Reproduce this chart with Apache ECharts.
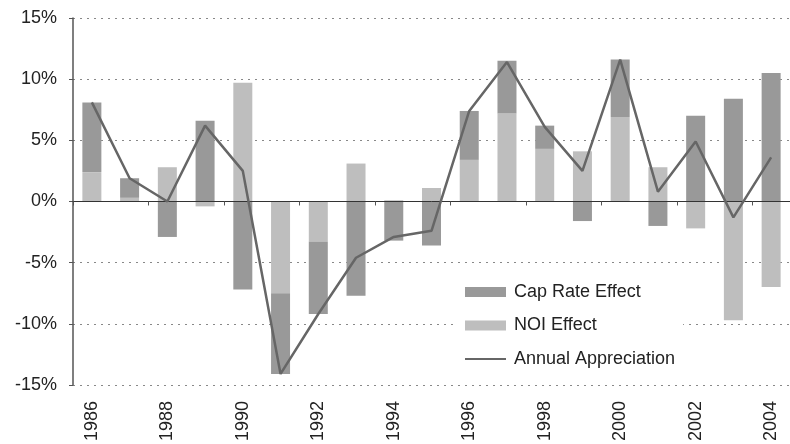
<!DOCTYPE html>
<html>
<head>
<meta charset="utf-8">
<script src="https://cdn.jsdelivr.net/npm/echarts@6/dist/echarts.min.js"></script>
<style>
html,body{margin:0;padding:0;background:#fff;}
#chart{width:790px;height:444px;}
</style>
</head>
<body>
<div id="chart"></div>
<script>
var years = ['1986','1987','1988','1989','1990','1991','1992','1993','1994','1995','1996','1997','1998','1999','2000','2001','2002','2003','2004'];
var noiEffect = [2.4, 0.3, 2.8, -0.4, 9.7, -7.5, -3.3, 3.1, 0.1, 1.1, 3.4, 7.2, 4.3, 4.1, 6.9, 2.8, -2.2, -9.7, -7.0];
var capRateEffect = [5.7, 1.6, -2.9, 6.6, -7.2, -6.6, -5.9, -7.7, -3.2, -3.6, 4.0, 4.3, 1.9, -1.6, 4.7, -2.0, 7.0, 8.4, 10.5];
var annualAppreciation = [8.1, 1.9, 0.0, 6.2, 2.5, -14.1, -9.2, -4.6, -2.9, -2.4, 7.4, 11.4, 6.1, 2.5, 11.6, 0.8, 4.9, -1.3, 3.6];
var yTicks = {min: -15, max: 15, interval: 5};

var font = 'Liberation Sans, Arial, sans-serif';
var chart = echarts.init(document.getElementById('chart'), null, {renderer: 'canvas'});
chart.setOption({
  animation: false,
  backgroundColor: '#fff',
  textStyle: {fontFamily: font},
  grid: {left: 73, top: 18, width: 723, height: 369, containLabel: false},
  legend: {
    orient: 'vertical',
    left: 457,
    top: 276,
    padding: [7, 8, 7, 7],
    backgroundColor: '#fff',
    itemWidth: 41,
    itemHeight: 10,
    itemGap: 15.5,
    textStyle: {fontSize: 18, color: '#222', fontFamily: font, padding: [0, 0, 0, 3]},
    data: [
      {name: 'Cap Rate Effect', icon: 'rect'},
      {name: 'NOI Effect', icon: 'rect'},
      {name: 'Annual Appreciation', itemStyle: {opacity: 0}, lineStyle: {color: '#666', width: 2}}
    ]
  },
  xAxis: [
    {
      type: 'category',
      data: years,
      position: 'bottom',
      z: 4,
      axisLine: {show: true, onZero: true, lineStyle: {color: '#333', width: 1}},
      axisTick: {show: true, interval: 1, length: 4, lineStyle: {color: '#555'}},
      axisLabel: {show: false},
      splitLine: {show: false}
    },
    {
      type: 'category',
      data: years,
      position: 'bottom',
      axisLine: {show: false, onZero: false},
      axisTick: {show: false},
      axisLabel: {show: true, interval: 1, rotate: 90, margin: 16, fontSize: 18, color: '#222', fontFamily: font},
      splitLine: {show: false}
    }
  ],
  yAxis: {
    type: 'value',
    min: yTicks.min,
    max: yTicks.max,
    interval: yTicks.interval,
    axisLine: {show: true, lineStyle: {color: '#555', width: 1.5}},
    axisTick: {show: true, length: 4, lineStyle: {color: '#555'}},
    axisLabel: {formatter: '{value}%', fontSize: 18, color: '#222', margin: 16, fontFamily: font},
    splitLine: {show: true, lineStyle: {color: '#888', type: [2, 5], width: 1}}
  },
  series: [
    {
      name: 'NOI Effect',
      type: 'bar',
      stack: 'total',
      barWidth: 19,
      data: noiEffect,
      itemStyle: {color: '#bebebe'}
    },
    {
      name: 'Cap Rate Effect',
      type: 'bar',
      stack: 'total',
      barWidth: 19,
      data: capRateEffect,
      itemStyle: {color: '#999999'}
    },
    {
      name: 'Annual Appreciation',
      type: 'line',
      data: annualAppreciation,
      symbol: 'none',
      lineStyle: {color: '#666', width: 2.5},
      itemStyle: {color: '#666'},
      z: 5
    }
  ]
});
</script>
</body>
</html>
